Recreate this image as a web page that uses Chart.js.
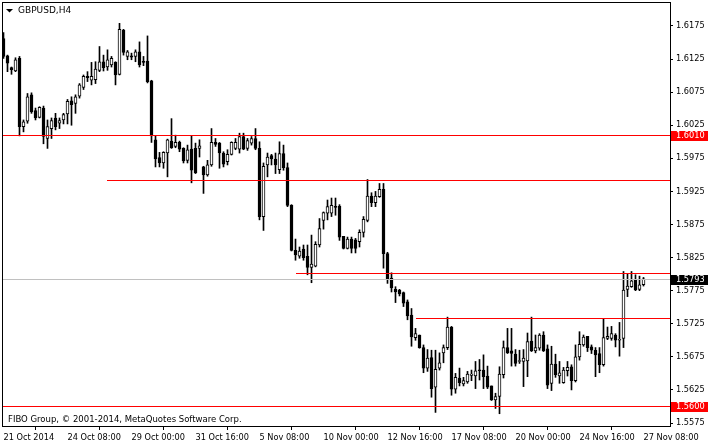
<!DOCTYPE html>
<html><head><meta charset="utf-8">
<script src="https://cdn.jsdelivr.net/npm/chart.js@4"></script>
<style>html,body{margin:0;padding:0;background:#fff;overflow:hidden}</style>
</head><body><canvas id="c" width="710" height="445"></canvas>
<script>
const symbolTitle = 'GBPUSD,H4';
const copyright = 'FIBO Group, \u00A9 2001-2014, MetaQuotes Software Corp.';
const timeLabels = ['21 Oct 2014','24 Oct 08:00','29 Oct 00:00','31 Oct 16:00','5 Nov 08:00','10 Nov 00:00','12 Nov 16:00','17 Nov 08:00','20 Nov 00:00','24 Nov 16:00','27 Nov 08:00'];
const barsPerLabel = 16;
const priceTicks = [1.5575,1.5625,1.5675,1.5725,1.5775,1.5825,1.5875,1.5925,1.5975,1.6025,1.6075,1.6125,1.6175];

const open = [1.6156,1.6130,1.6112,1.6107,1.6126,1.6023,1.6031,1.6071,1.6047,1.6037,
1.6051,1.6005,1.6020,1.6036,1.6028,1.6033,1.6042,1.6062,1.6058,1.6069,
1.6082,1.6099,1.6093,1.6094,1.6108,1.6121,1.6113,1.6116,1.6120,1.6102,
1.6169,1.6129,1.6130,1.6129,1.6136,1.6121,1.6122,1.6092,1.6003,1.5976,
1.5968,1.5983,1.6001,1.5993,1.5999,1.5990,1.5972,1.5989,1.5990,1.5990,
1.5962,1.5950,1.5965,1.5999,1.5998,1.5983,1.5970,1.5981,1.5990,1.5989,
1.6008,1.5990,1.5998,1.6005,1.5990,1.5887,1.5965,1.5979,1.5974,1.5958,
1.5982,1.5961,1.5904,1.5836,1.5827,1.5838,1.5827,1.5810,1.5812,1.5844,
1.5881,1.5892,1.5892,1.5902,1.5903,1.5857,1.5839,1.5853,1.5852,1.5849,
1.5863,1.5881,1.5918,1.5908,1.5917,1.5928,1.5831,1.5794,1.5777,1.5776,
1.5772,1.5758,1.5738,1.5704,1.5708,1.5689,1.5658,1.5674,1.5629,1.5658,
1.5681,1.5689,1.5720,1.5626,1.5643,1.5634,1.5637,1.5647,1.5646,1.5655,
1.5655,1.5646,1.5631,1.5610,1.5615,1.5648,1.5689,1.5684,1.5679,1.5668,
1.5668,1.5669,1.5699,1.5684,1.5688,1.5708,1.5687,1.5635,1.5664,1.5646,
1.5636,1.5654,1.5660,1.5639,1.5675,1.5693,1.5706,1.5690,1.5685,1.5680,
1.5663,1.5703,1.5703,1.5708,1.5700,1.5703,1.5777,1.5781,1.5791,1.5777,
1.5784];
const high = [1.6165,1.6131,1.6113,1.6127,1.6129,1.6033,1.6073,1.6074,1.6051,1.6053,
1.6054,1.6033,1.6036,1.6043,1.6036,1.6043,1.6064,1.6068,1.6071,1.6088,
1.6101,1.6106,1.6120,1.6121,1.6144,1.6131,1.6139,1.6129,1.6121,1.6179,
1.6170,1.6138,1.6134,1.6139,1.6151,1.6129,1.6160,1.6093,1.6009,1.5984,
1.5985,1.6004,1.6035,1.6010,1.6001,1.5991,1.5995,1.6009,1.5998,1.6003,
1.5963,1.5972,1.6020,1.6005,1.5999,1.5985,1.5988,1.6000,1.6005,1.6013,
1.6013,1.6005,1.6008,1.6020,1.6000,1.5968,1.5983,1.5981,1.5983,1.6000,
1.5995,1.5968,1.5905,1.5853,1.5841,1.5844,1.5844,1.5859,1.5849,1.5884,
1.5894,1.5912,1.5915,1.5915,1.5905,1.5857,1.5856,1.5856,1.5854,1.5867,
1.5887,1.5943,1.5923,1.5925,1.5937,1.5937,1.5833,1.5802,1.5781,1.5777,
1.5773,1.5761,1.5748,1.5718,1.5708,1.5693,1.5686,1.5685,1.5685,1.5681,
1.5693,1.5735,1.5721,1.5650,1.5658,1.5644,1.5653,1.5655,1.5668,1.5671,
1.5678,1.5661,1.5631,1.5620,1.5660,1.5699,1.5718,1.5718,1.5686,1.5685,
1.5686,1.5711,1.5735,1.5708,1.5710,1.5713,1.5693,1.5691,1.5679,1.5668,
1.5659,1.5668,1.5663,1.5693,1.5713,1.5708,1.5706,1.5693,1.5689,1.5689,
1.5733,1.5720,1.5721,1.5710,1.5727,1.5804,1.5801,1.5804,1.5799,1.5797,
1.5795];
const low = [1.6126,1.6106,1.6102,1.6106,1.6009,1.6015,1.6028,1.6043,1.6033,1.6036,
1.5997,1.5990,1.6005,1.6018,1.6020,1.6027,1.6027,1.6025,1.6043,1.6066,
1.6079,1.6091,1.6086,1.6088,1.6106,1.6107,1.6108,1.6113,1.6086,1.6101,
1.6131,1.6124,1.6124,1.6121,1.6113,1.6115,1.6089,1.5999,1.5962,1.5962,
1.5960,1.5947,1.5990,1.5991,1.5985,1.5968,1.5968,1.5938,1.5952,1.5977,
1.5922,1.5948,1.5963,1.5993,1.5960,1.5962,1.5965,1.5980,1.5988,1.5983,
1.5988,1.5987,1.5995,1.5988,1.5882,1.5866,1.5947,1.5965,1.5952,1.5952,
1.5957,1.5902,1.5835,1.5821,1.5824,1.5821,1.5799,1.5787,1.5811,1.5841,
1.5868,1.5882,1.5887,1.5889,1.5851,1.5838,1.5838,1.5832,1.5832,1.5841,
1.5856,1.5879,1.5902,1.5902,1.5916,1.5809,1.5786,1.5773,1.5757,1.5767,
1.5751,1.5731,1.5691,1.5700,1.5688,1.5651,1.5653,1.5614,1.5591,1.5655,
1.5666,1.5686,1.5617,1.5620,1.5631,1.5631,1.5635,1.5639,1.5627,1.5640,
1.5627,1.5627,1.5609,1.5597,1.5589,1.5643,1.5680,1.5661,1.5661,1.5665,
1.5630,1.5645,1.5683,1.5681,1.5685,1.5683,1.5627,1.5624,1.5644,1.5635,
1.5635,1.5646,1.5625,1.5637,1.5670,1.5691,1.5683,1.5680,1.5645,1.5651,
1.5661,1.5701,1.5700,1.5690,1.5676,1.5689,1.5766,1.5780,1.5775,1.5775,
1.5782];
const close = [1.6129,1.6119,1.6109,1.6124,1.6023,1.6030,1.6068,1.6045,1.6036,1.6052,
1.6008,1.6023,1.6032,1.6023,1.6032,1.6041,1.6061,1.6056,1.6068,1.6086,
1.6099,1.6097,1.6099,1.6110,1.6121,1.6112,1.6124,1.6126,1.6101,1.6170,
1.6135,1.6136,1.6128,1.6136,1.6116,1.6120,1.6091,1.6009,1.5974,1.5968,
1.5984,1.6003,1.5991,1.5999,1.5989,1.5971,1.5988,1.5957,1.5953,1.5994,
1.5950,1.5965,1.5999,1.5996,1.5983,1.5966,1.5981,1.5999,1.5999,1.6008,
1.5989,1.6002,1.6005,1.5990,1.5887,1.5963,1.5977,1.5974,1.5965,1.5982,
1.5961,1.5904,1.5836,1.5829,1.5835,1.5825,1.5810,1.5815,1.5845,1.5869,
1.5893,1.5902,1.5904,1.5901,1.5856,1.5839,1.5853,1.5839,1.5839,1.5863,
1.5883,1.5918,1.5908,1.5918,1.5928,1.5831,1.5792,1.5779,1.5773,1.5770,
1.5756,1.5737,1.5705,1.5710,1.5689,1.5658,1.5673,1.5627,1.5656,1.5666,
1.5689,1.5720,1.5626,1.5644,1.5636,1.5639,1.5649,1.5649,1.5654,1.5654,
1.5645,1.5629,1.5610,1.5615,1.5649,1.5689,1.5681,1.5680,1.5665,1.5669,
1.5673,1.5698,1.5684,1.5689,1.5708,1.5684,1.5632,1.5664,1.5648,1.5651,
1.5655,1.5659,1.5639,1.5675,1.5694,1.5705,1.5689,1.5685,1.5678,1.5663,
1.5704,1.5706,1.5710,1.5700,1.5701,1.5776,1.5782,1.5790,1.5776,1.5784,
1.5793];

const levels = [1.6010, 1.5942, 1.5802, 1.5733, 1.5600];
const levelFromBar = [null, 26, 73, 103, null];
const levelTagged = [true, false, false, false, true];
const lastPrice = 1.5793;

const bodies = open.map((o, i) => ({x: i, y: [Math.min(o, close[i]), Math.max(o, close[i])]}));
const wicks = open.map((o, i) => ({x: i, y: [low[i], high[i]]}));
const bodyFill = open.map((o, i) => close[i] >= o ? '#ffffff' : '#000000');

const overlay = {
  id: 'overlay',
  afterDatasetsDraw(chart) {
    const {ctx, chartArea: a, scales: {x, y}} = chart;
    const row = v => Math.round(y.getPixelForValue(v));
    ctx.save();
    ctx.fillStyle = '#c0c0c0';
    ctx.fillRect(a.left, row(lastPrice), a.right - a.left, 1);
    levels.forEach((lv, k) => {
      const x0 = levelFromBar[k] == null ? a.left : Math.round(x.getPixelForValue(levelFromBar[k]));
      ctx.fillStyle = '#ff0000';
      ctx.fillRect(x0, row(lv), a.right - x0, 1);
    });
    ctx.restore();
  },
  afterDraw(chart) {
    const {ctx, chartArea: a, scales: {y}} = chart;
    ctx.save();
    ctx.strokeStyle = '#000'; ctx.lineWidth = 1;
    ctx.strokeRect(a.left - 0.5, a.top - 0.5, a.right - a.left + 1, a.bottom - a.top + 1);
    ctx.fillStyle = '#000';
    ctx.beginPath(); ctx.moveTo(6, 9); ctx.lineTo(13, 9); ctx.lineTo(9.5, 12.5); ctx.closePath(); ctx.fill();
    ctx.textBaseline = 'middle'; ctx.textAlign = 'left';
    ctx.font = '9px "DejaVu Sans"';
    ctx.fillText(symbolTitle, 18, 10.5);
    ctx.font = '8.5px "DejaVu Sans"';
    ctx.fillText(copyright, 8, 419.5);
    ctx.font = '8.2px "DejaVu Sans"';
    const tag = (v, bg) => {
      const py = Math.round(y.getPixelForValue(v));
      ctx.fillStyle = bg;
      ctx.fillRect(a.right + 1, py - 4, 37, 10);
      ctx.fillStyle = '#fff';
      ctx.fillText(v.toFixed(4), a.right + 6, py + 1);
    };
    levels.forEach((lv, k) => { if (levelTagged[k]) tag(lv, '#ff0000'); });
    tag(lastPrice, '#000000');
    ctx.restore();
  }
};

new Chart(document.getElementById('c'), {
  type: 'bar',
  data: {datasets: [
    {data: bodies, backgroundColor: bodyFill, borderColor: '#000', borderWidth: 1, borderSkipped: false,
     barThickness: 3, grouped: false, minBarLength: 1, order: 1},
    {data: wicks, backgroundColor: '#000', borderWidth: 0, barThickness: 1, grouped: false, order: 2}
  ]},
  options: {
    responsive: false, animation: false, events: [],
    layout: {padding: {left: 3, top: 3, right: 0, bottom: 0}},
    plugins: {legend: {display: false}, tooltip: {enabled: false}},
    scales: {
      x: {
        type: 'linear', position: 'bottom', min: -0.125, max: 166.625, offset: false,
        afterBuildTicks: s => { s.ticks = timeLabels.map((_, k) => ({value: k * barsPerLabel})); },
        afterFit: s => { s.height = 19; s.paddingLeft = 0; s.paddingRight = 0; },
        ticks: {autoSkip: false, maxRotation: 0, minRotation: 0, align: 'start', padding: 3, color: '#000',
                font: {family: 'DejaVu Sans', size: 8.2},
                callback: v => timeLabels[Math.round(v / barsPerLabel)]},
        grid: {drawOnChartArea: false, drawTicks: true, tickLength: 4, color: '#000', lineWidth: 1},
        border: {display: false}
      },
      y: {
        type: 'linear', position: 'right', min: 1.557047, max: 1.620976,
        afterBuildTicks: s => { s.ticks = priceTicks.map(v => ({value: v})); },
        afterFit: s => { s.width = 40; s.paddingTop = 0; s.paddingBottom = 0; },
        ticks: {padding: 3, color: '#000', font: {family: 'DejaVu Sans', size: 8.2}, callback: v => v.toFixed(4)},
        grid: {drawOnChartArea: false, drawTicks: true, tickLength: 3, color: '#000', lineWidth: 1},
        border: {display: false}
      }
    }
  },
  plugins: [overlay]
});
</script></body></html>
